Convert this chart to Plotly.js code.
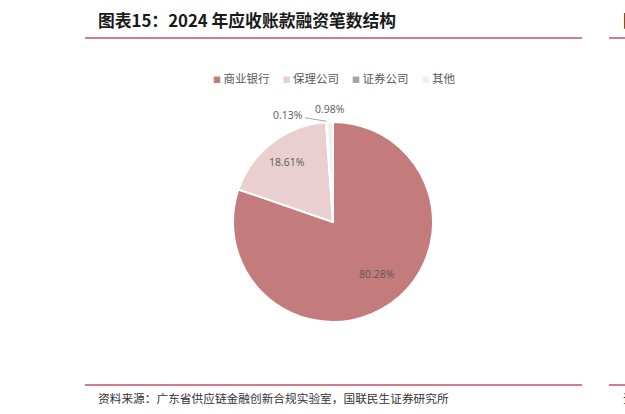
<!DOCTYPE html>
<html>
<head>
<meta charset="utf-8">
<script src="https://cdn.plot.ly/plotly-3.0.1.min.js"></script>
<style>
  html, body { margin: 0; padding: 0; background: #fff; }
  #chart { width: 625px; height: 414px; }
</style>
</head>
<body>
<div id="chart"></div>
<script>
const categories = ['商业银行', '保理公司', '证券公司', '其他'];
const shares = [80.28, 18.61, 0.13, 0.98];
const sliceColors = ['#C47B7B', '#E9CFD0', '#A6A6A6', '#F6EEEB'];

const titleText = '图表15：2024 年应收账款融资笔数结构';
const sourceText = '资料来源：广东省供应链金融创新合规实验室，国联民生证券研究所';

const W = 625, H = 414;
const px = x => x / W;
const py = y => 1 - y / H;

// pie placement in pixels
const cx = 333, cy = 222, R = 100;

const pieTrace = {
    type: 'pie',
    labels: categories,
    values: shares,
    sort: false,
    direction: 'clockwise',
    rotation: 0,
    marker: { colors: sliceColors, line: { color: '#ffffff', width: 2 } },
    textinfo: 'none',
    hoverinfo: 'label+percent',
    automargin: false,
    showlegend: false,
    domain: { x: [px(cx - R), px(cx + R)], y: [py(cy + R), py(cy - R)] }
};

// mid angle of each slice, clockwise from 12 o'clock
const total = shares.reduce((a, b) => a + b, 0);
let acc = 0;
const midAngles = shares.map(v => {
    const a = (acc + v / 2) / total * 2 * Math.PI;
    acc += v;
    return a;
});
const polar = (a, d) => ({ x: cx + d * Math.sin(a), y: cy - d * Math.cos(a) });

const labelFont = { family: 'Open Sans, Noto Sans, sans-serif', size: 10.5, color: '#595959' };
const valueLabels = [];
// big slices: label inside at ~0.75 R
[0, 1].forEach(i => {
    const p = polar(midAngles[i], R * 0.75);
    valueLabels.push({
        xref: 'paper', yref: 'paper', x: px(p.x), y: py(p.y),
        text: shares[i].toFixed(2) + '%', showarrow: false, font: labelFont
    });
});
// 证券公司: outside with leader line
{
    const tip = polar(midAngles[2], R + 1);
    valueLabels.push({
        xref: 'paper', yref: 'paper', x: px(tip.x), y: py(tip.y),
        text: shares[2].toFixed(2) + '%', showarrow: true, arrowhead: 0,
        arrowwidth: 1, arrowcolor: '#A6A6A6', ax: -38, ay: -6, standoff: 0,
        font: labelFont
    });
}
// 其他: just above the slice
{
    const p = polar(midAngles[3], R + 22);
    valueLabels.push({
        xref: 'paper', yref: 'paper', x: px(p.x + 1), y: py(p.y),
        text: shares[3].toFixed(2) + '%', showarrow: false, font: labelFont
    });
}

// legend row built from categories and colours
const legendText = categories.map((c, i) =>
    `<span style="color:${sliceColors[i]};font-size:8px">■</span> ${c}`).join('     ');

const pink = '#D97A8C';
const cjk = 'Noto Sans CJK SC, sans-serif';
const layout = {
    width: W,
    height: H,
    margin: { t: 0, b: 0, l: 0, r: 0 },
    paper_bgcolor: '#ffffff',
    showlegend: false,
    shapes: [
        { type: 'line', xref: 'paper', yref: 'paper', x0: px(85), x1: px(582), y0: py(38), y1: py(38), line: { color: pink, width: 2 } },
        { type: 'line', xref: 'paper', yref: 'paper', x0: px(85), x1: px(582), y0: py(385), y1: py(385), line: { color: pink, width: 2 } },
        { type: 'line', xref: 'paper', yref: 'paper', x0: px(609), x1: px(630), y0: py(38), y1: py(38), line: { color: pink, width: 2 } },
        { type: 'line', xref: 'paper', yref: 'paper', x0: px(609), x1: px(630), y0: py(385), y1: py(385), line: { color: pink, width: 2 } }
    ],
    annotations: [
        {
            xref: 'paper', yref: 'paper', x: px(96), y: py(20), xanchor: 'left', yanchor: 'middle',
            text: '<b>' + titleText + '</b>', showarrow: false,
            font: { family: cjk, size: 16.8, color: '#1a1a1a' }
        },
        {
            xref: 'paper', yref: 'paper', x: px(96), y: py(397), xanchor: 'left', yanchor: 'middle',
            text: sourceText, showarrow: false,
            font: { family: cjk, size: 11.7, color: '#333333' }
        },
        {
            xref: 'paper', yref: 'paper', x: px(334), y: py(78), xanchor: 'center', yanchor: 'middle',
            text: legendText, showarrow: false,
            font: { family: cjk, size: 11.5, color: '#595959' }
        },
        {
            xref: 'paper', yref: 'paper', x: px(621), y: py(20), xanchor: 'left', yanchor: 'middle',
            text: '<b>图</b>', showarrow: false,
            font: { family: cjk, size: 16.8, color: '#1a1a1a' }
        },
        {
            xref: 'paper', yref: 'paper', x: px(621), y: py(397), xanchor: 'left', yanchor: 'middle',
            text: '资', showarrow: false,
            font: { family: cjk, size: 11.7, color: '#333333' }
        }
    ].concat(valueLabels)
};

Plotly.newPlot('chart', [pieTrace], layout, { staticPlot: true });
</script>
</body>
</html>
